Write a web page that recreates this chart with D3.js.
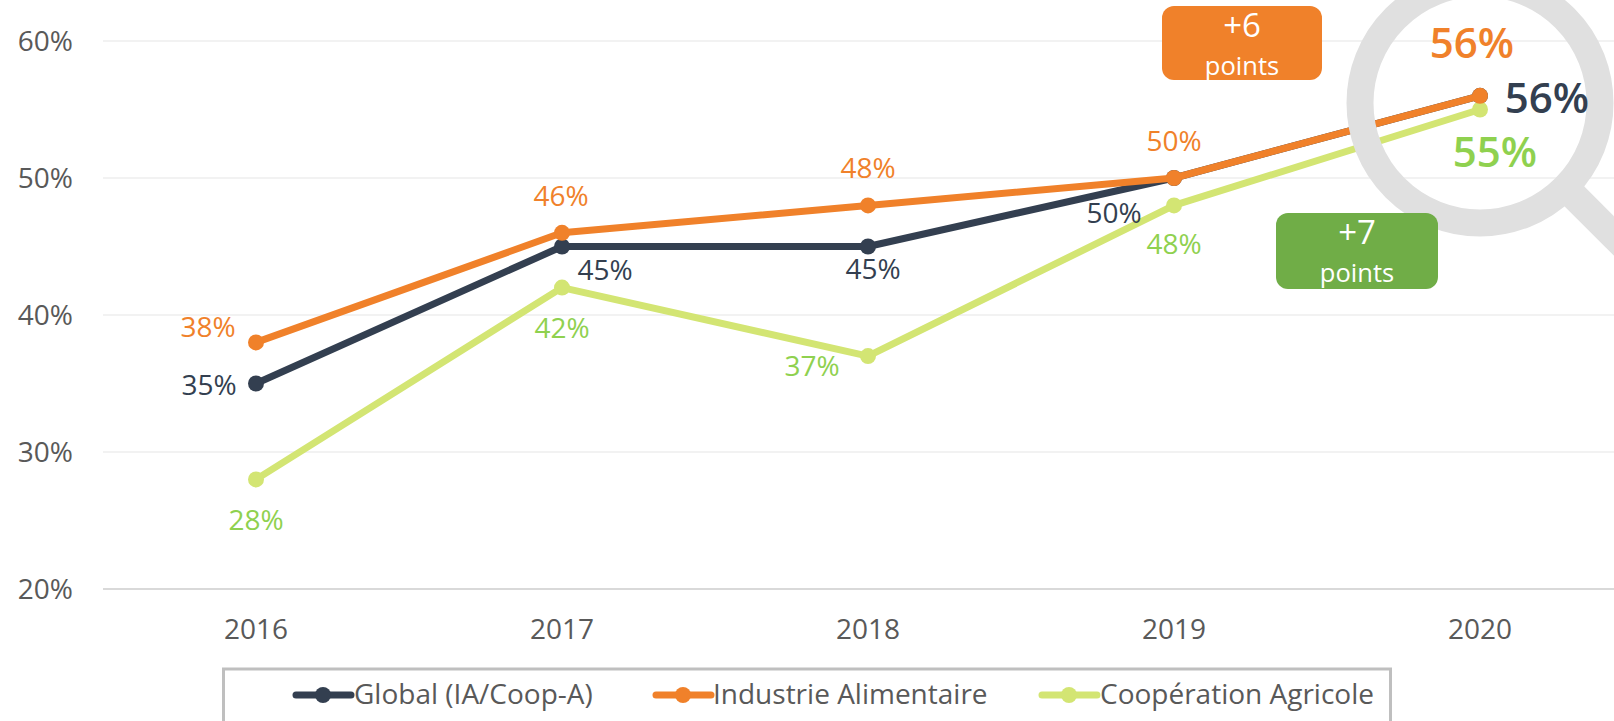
<!DOCTYPE html>
<html><head><meta charset="utf-8">
<script src="https://cdn.jsdelivr.net/npm/d3@7/dist/d3.min.js"></script>
<style>html,body{margin:0;padding:0;background:#fff;overflow:hidden}svg{display:block}text{font-family:"Open Sans",sans-serif}</style>
</head><body><svg id="c" width="1614" height="721"></svg>
<script>
const years=["2016","2017","2018","2019","2020"];
const yTicks=[20,30,40,50,60];
const globalValues=[35,45,45,50,56];
const industrieValues=[38,46,48,50,56];
const cooperationValues=[28,42,37,48,55];
const seriesNames=["Global (IA/Coop-A)","Industrie Alimentaire","Coopération Agricole"];
const seriesColors=["#333f50","#f0812a","#d3e573"];
const labelColors=["#333f50","#f0812a","#8fd14f"];
// label offsets per series/point: dx, dy from the point, size, weight
const labelOffsets=[
 [[-47,0,28,400],[43,22,28,400],[5,21,28,400],[-60,34,28,400],[67,1,42,600]],
 [[-48,-16,28,400],[-1,-38,28,400],[0,-38,28,400],[0,-38,28,400],[-8,-54,42,600]],
 [[0,40,28,400],[0,39,28,400],[-56,9,28,400],[0,38,28,400],[15,41,42,600]]
];
const x=d3.scaleBand().domain(years).range([103,1633]);
const y=d3.scaleLinear().domain([20,60]).range([589,41]);
const cx=d=>x(d)+x.bandwidth()/2;
const svg=d3.select("#c");

const gridG=svg.append("g");
gridG.selectAll("line").data(yTicks).join("line")
 .attr("x1",103).attr("x2",1614).attr("y1",d=>y(d)).attr("y2",d=>y(d))
 .attr("stroke",d=>d===20?"#d9d9d9":"#f2f2f2").attr("stroke-width",2);

const yAxis=d3.axisLeft(y).tickValues(yTicks).tickFormat(d=>d+"%").tickSize(0).tickPadding(0);
const ya=svg.append("g").attr("transform","translate(73,1)").call(yAxis);
ya.select(".domain").remove();
ya.selectAll("text").attr("font-size",28).attr("fill","#595959").style("font-family",'"Open Sans",sans-serif');

const xAxis=d3.axisBottom(x).tickSize(0).tickPadding(0);
const xa=svg.append("g").attr("transform","translate(0,619)").call(xAxis);
xa.select(".domain").remove();
xa.selectAll("text").attr("font-size",28).attr("fill","#595959").style("font-family",'"Open Sans",sans-serif');

const allValues=[globalValues,industrieValues,cooperationValues];
const line=d3.line().x((d,i)=>cx(years[i])).y(d=>y(d));
[0,2,1].forEach(s=>{
 svg.append("path").attr("d",line(allValues[s])).attr("fill","none")
  .attr("stroke",seriesColors[s]).attr("stroke-width",7).attr("stroke-linejoin","round");
 svg.append("g").selectAll("circle").data(allValues[s]).join("circle")
  .attr("cx",(d,i)=>cx(years[i])).attr("cy",d=>y(d)).attr("r",8).attr("fill",seriesColors[s]);
});

// magnifier
const mx=cx("2020"),my=103;
svg.append("line").attr("x1",mx+80).attr("y1",my+79).attr("x2",mx+180).attr("y2",my+179)
 .attr("stroke","#e0e0e0").attr("stroke-width",28);
svg.append("circle").attr("cx",mx).attr("cy",my).attr("r",120).attr("fill","none")
 .attr("stroke","#e0e0e0").attr("stroke-width",27);

// value labels
allValues.forEach((vals,s)=>{
 svg.append("g").selectAll("text").data(vals).join("text")
  .attr("x",(d,i)=>cx(years[i])+labelOffsets[s][i][0])
  .attr("y",(d,i)=>y(d)+labelOffsets[s][i][1])
  .attr("text-anchor","middle").attr("dominant-baseline","central")
  .attr("font-size",(d,i)=>labelOffsets[s][i][2])
  .attr("font-weight",(d,i)=>labelOffsets[s][i][3])
  .attr("fill",labelColors[s]).text(d=>d+"%");
});

// callouts
const callouts=[
 {x:1162,y:6,w:160,h:74,c:"#f0812a",t:"+6"},
 {x:1276,y:213,w:162,h:76,c:"#70ad47",t:"+7"}
];
callouts.forEach(b=>{
 svg.append("rect").attr("x",b.x).attr("y",b.y).attr("width",b.w).attr("height",b.h).attr("rx",12).attr("fill",b.c);
 svg.append("text").attr("x",b.x+b.w/2).attr("y",b.y+31).attr("text-anchor","middle").attr("font-size",33).attr("fill","#fff").text(b.t);
 svg.append("text").attr("x",b.x+b.w/2).attr("y",b.y+69).attr("text-anchor","middle").attr("font-size",25.5).attr("fill","#fff").text("points");
});

// legend
svg.append("rect").attr("x",223.5).attr("y",669).attr("width",1167).attr("height",80).attr("fill","#fff")
 .attr("stroke","#bfbfbf").attr("stroke-width",3);
const legendX=[296,656,1042];
const legendTextX=[354,713,1100];
seriesNames.forEach((n,i)=>{
 const g=svg.append("g");
 g.append("line").attr("x1",legendX[i]).attr("x2",legendX[i]+55).attr("y1",695).attr("y2",695)
  .attr("stroke",seriesColors[i]).attr("stroke-width",7).attr("stroke-linecap","round");
 g.append("circle").attr("cx",legendX[i]+27).attr("cy",695).attr("r",8).attr("fill",seriesColors[i]);
 g.append("text").attr("x",legendTextX[i]).attr("y",693).attr("dominant-baseline","central")
  .attr("font-size",28).attr("fill","#595959").text(n);
});
</script></body></html>
